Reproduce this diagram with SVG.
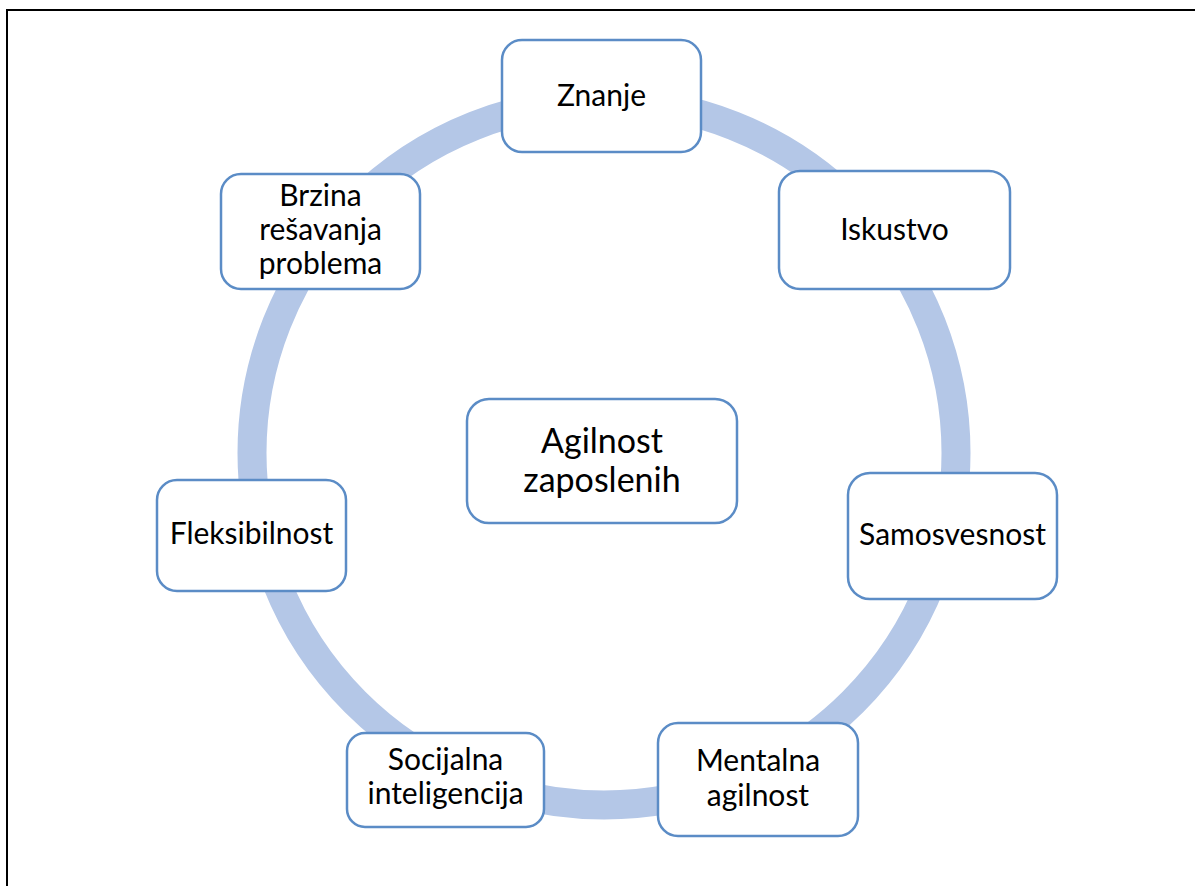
<svg xmlns="http://www.w3.org/2000/svg" width="1195" height="886" viewBox="0 0 1195 886">
  <style>
    .frame { fill: #ffffff; stroke: #000000; stroke-width: 2; }
    .ring { fill: none; stroke: #B4C7E7; stroke-width: 29; }
    .box { fill: #ffffff; stroke: #5B8CC6; stroke-width: 2.5; }
    .lbl { font-family: Lato, "Liberation Sans", sans-serif; font-size: 30px; fill: #000000; text-anchor: middle; }
    .hub { font-size: 34px; }
  </style>
  <rect class="frame" x="7" y="10" width="1200" height="890"/>

  <!-- cycle ring behind the nodes -->
  <g id="connectors">
    <circle class="ring" cx="604" cy="453" r="352"/>
  </g>

  <g id="node-center">
    <rect class="box" x="467" y="399" width="270" height="124" rx="22"/>
    <text class="lbl hub" x="602" y="453">Agilnost</text>
    <text class="lbl hub" x="602" y="492">zaposlenih</text>
  </g>

  <g id="node-znanje">
    <rect class="box" x="502" y="40" width="199" height="112" rx="20"/>
    <text class="lbl" x="601.5" y="106">Znanje</text>
  </g>

  <g id="node-iskustvo">
    <rect class="box" x="779" y="171" width="231" height="118" rx="21"/>
    <text class="lbl" x="894.5" y="240">Iskustvo</text>
  </g>

  <g id="node-samosvesnost">
    <rect class="box" x="848" y="473" width="209" height="126" rx="22"/>
    <text class="lbl" x="952.5" y="545">Samosvesnost</text>
  </g>

  <g id="node-mentalna">
    <rect class="box" x="658" y="723" width="200" height="113" rx="20"/>
    <text class="lbl" x="758" y="771">Mentalna</text>
    <text class="lbl" x="758" y="806">agilnost</text>
  </g>

  <g id="node-socijalna">
    <rect class="box" x="347" y="733" width="197" height="94" rx="18"/>
    <text class="lbl" x="445.5" y="770">Socijalna</text>
    <text class="lbl" x="445.5" y="804">inteligencija</text>
  </g>

  <g id="node-fleksibilnost">
    <rect class="box" x="157" y="480" width="189" height="111" rx="20"/>
    <text class="lbl" x="251.5" y="544">Fleksibilnost</text>
  </g>

  <g id="node-brzina">
    <rect class="box" x="221" y="174" width="199" height="115" rx="20"/>
    <text class="lbl" x="320.5" y="206">Brzina</text>
    <text class="lbl" x="320.5" y="240">rešavanja</text>
    <text class="lbl" x="320.5" y="274">problema</text>
  </g>
</svg>
